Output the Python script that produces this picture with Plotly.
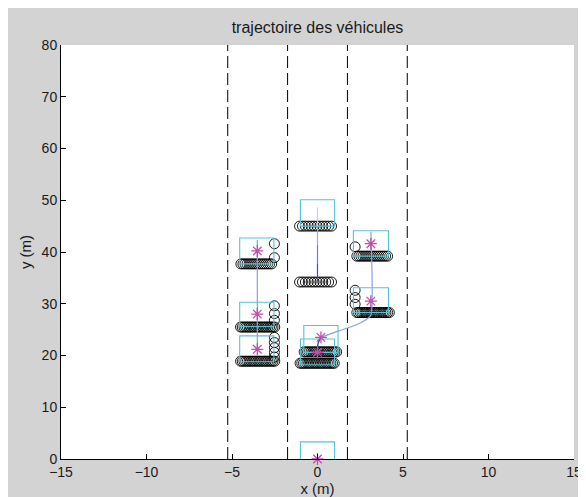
import plotly.graph_objects as go

# lane markings (m)
LANE_X = [-5.25, -1.75, 1.75, 5.25]

# circle rows: (y, x positions)
ROW_A_Y = 37.7
ROW_A_X = [-4.48, -4.36, -4.24, -4.12, -4.00, -3.88, -3.76, -3.64, -3.52, -3.40, -3.28, -3.16, -3.04, -2.92, -2.80, -2.68]
ROW_B_Y = 25.5
ROW_B_X = [-4.50, -4.40, -4.30, -4.20, -4.10, -4.00, -3.90, -3.80, -3.70, -3.60, -3.50, -3.40, -3.30, -3.20, -3.10, -3.00, -2.90, -2.80, -2.70, -2.60, -2.50]
ROW_C_Y = 18.9
ROW_C_X = [-4.50, -4.40, -4.30, -4.20, -4.10, -4.00, -3.90, -3.80, -3.70, -3.60, -3.50, -3.40, -3.30, -3.20, -3.10, -3.00, -2.90, -2.80, -2.70, -2.60, -2.50]
ROW_D_Y = 45.0
ROW_D_X = [-1.05, -0.88, -0.71, -0.54, -0.37, -0.20, -0.03, 0.14, 0.31, 0.48, 0.65, 0.82]
ROW_E_Y = 34.2
ROW_E_X = [-1.05, -0.88, -0.71, -0.54, -0.37, -0.20, -0.03, 0.14, 0.31, 0.48, 0.65, 0.82]
ROW_F1_Y = 20.7
ROW_F1_X = [-0.78, -0.68, -0.58, -0.48, -0.38, -0.28, -0.18, -0.08, 0.02, 0.12, 0.22, 0.32, 0.42, 0.52, 0.62, 0.72, 0.82, 0.92, 1.02, 1.12]
ROW_F2_Y = 18.5
ROW_F2_X = [-1.02, -0.92, -0.82, -0.72, -0.62, -0.52, -0.42, -0.32, -0.22, -0.12, -0.02, 0.08, 0.18, 0.28, 0.38, 0.48, 0.58, 0.68, 0.78, 0.88, 0.98]
ROW_G_Y = 39.2
ROW_G_X = [2.30, 2.42, 2.54, 2.66, 2.78, 2.90, 3.02, 3.14, 3.26, 3.38, 3.50, 3.62, 3.74, 3.86, 3.98, 4.10]
ROW_H_Y = 28.3
ROW_H_X = [2.30, 2.40, 2.50, 2.60, 2.70, 2.80, 2.90, 3.00, 3.10, 3.20, 3.30, 3.40, 3.50, 3.60, 3.70, 3.80, 3.90, 4.00, 4.10, 4.20]

# circle columns: (x, y positions)
COL_A_X = -2.52
COL_A_Y = [41.6, 38.9]
COL_B_X = -2.52
COL_B_Y = [29.6, 28.1, 26.8]
COL_C_X = -2.52
COL_C_Y = [23.5, 22.5, 21.5, 20.6, 19.7]
COL_G_X = 2.2
COL_G_Y = [41.0]
COL_H_X = 2.2
COL_H_Y = [32.6, 31.2, 29.9]

# vehicle boxes: x0, x1, y0, y1
BOX_X0 = [-1.0, -4.55, -4.55, -4.55, -1.0, -0.8, -1.0, 2.1, 2.1]
BOX_X1 = [1.0, -2.55, -2.55, -2.55, 1.0, 1.2, 1.0, 4.15, 4.15]
BOX_Y0 = [-1.7, 37.7, 25.6, 18.8, 45.0, 20.6, 18.2, 39.2, 28.3]
BOX_Y1 = [3.3, 42.7, 30.3, 23.8, 50.1, 25.8, 23.2, 44.1, 33.1]

# vehicle centres
CENTER_X = [0.0, -3.52, -3.52, -3.52, 0.2, 0.0, 3.12, 3.12]
CENTER_Y = [0.0, 40.2, 28.0, 21.2, 23.5, 20.6, 41.6, 30.5]

# trajectories
TRAJ_LEFT_X = [-3.52, -3.52]
TRAJ_LEFT_Y = [42.3, 21.6]
TRAJ_MID_X = [0.0, 0.0, 0.0, 0.0, 0.0]
TRAJ_MID_Y = [48.6, 45.0, 41.4, 37.8, 34.4]
TRAJ_MID_COLORS = ["#c3cdee", "#9aaae0", "#6a80cf", "#3555b5"]
TRAJ_CHANGE_DARK_X = [0.0, 0.03, 0.2]
TRAJ_CHANGE_DARK_Y = [20.6, 22.3, 23.5]
TRAJ_CHANGE_X = [0.2, 1.2, 2.25, 2.83, 3.12, 3.12]
TRAJ_CHANGE_Y = [23.5, 24.7, 25.9, 26.9, 27.8, 43.9]

FONT = "Liberation Sans, Arial, Helvetica, sans-serif"
CYAN = "#55c5d5"
MAGENTA = "#c24fae"
TRAJ_LIGHT = "#8d9fdc"

fig = go.Figure()

for lx in LANE_X:
    fig.add_trace(go.Scatter(x=[lx, lx], y=[0, 80], mode="lines",
                             line=dict(color="black", width=1, dash="12px,5px")))

rows = [(ROW_A_Y, ROW_A_X), (ROW_B_Y, ROW_B_X), (ROW_C_Y, ROW_C_X), (ROW_D_Y, ROW_D_X),
        (ROW_E_Y, ROW_E_X), (ROW_F1_Y, ROW_F1_X), (ROW_F2_Y, ROW_F2_X),
        (ROW_G_Y, ROW_G_X), (ROW_H_Y, ROW_H_X)]
cols = [(COL_A_X, COL_A_Y), (COL_B_X, COL_B_Y), (COL_C_X, COL_C_Y),
        (COL_G_X, COL_G_Y), (COL_H_X, COL_H_Y)]
circle_marker = dict(symbol="circle-open", size=10, color="black", line=dict(width=0.9, color="black"))
for ry, rx in rows:
    fig.add_trace(go.Scatter(x=rx, y=[ry] * len(rx), mode="markers", marker=circle_marker))
for cx, cy in cols:
    fig.add_trace(go.Scatter(x=[cx] * len(cy), y=cy, mode="markers", marker=circle_marker))

for x0, x1, y0, y1 in zip(BOX_X0, BOX_X1, BOX_Y0, BOX_Y1):
    fig.add_trace(go.Scatter(x=[x0, x1, x1, x0, x0], y=[y0, y0, y1, y1, y0], mode="lines",
                             line=dict(color=CYAN, width=1.1)))

fig.add_trace(go.Scatter(x=TRAJ_LEFT_X, y=TRAJ_LEFT_Y, mode="lines", line=dict(color=TRAJ_LIGHT, width=1.2)))
for i, c in enumerate(TRAJ_MID_COLORS):
    fig.add_trace(go.Scatter(x=TRAJ_MID_X[i:i + 2], y=TRAJ_MID_Y[i:i + 2], mode="lines",
                             line=dict(color=c, width=1.2)))
fig.add_trace(go.Scatter(x=TRAJ_CHANGE_X, y=TRAJ_CHANGE_Y, mode="lines",
                         line=dict(color=TRAJ_LIGHT, width=1.2, shape="spline", smoothing=0.6)))
fig.add_trace(go.Scatter(x=TRAJ_CHANGE_DARK_X, y=TRAJ_CHANGE_DARK_Y, mode="lines",
                         line=dict(color="#2d4fb0", width=1.4, shape="spline")))

fig.add_trace(go.Scatter(x=CENTER_X, y=CENTER_Y, mode="markers", cliponaxis=False,
                         marker=dict(symbol="asterisk-open", size=10, color=MAGENTA,
                                     line=dict(width=1.3, color=MAGENTA))))

# page body adds an 8px white margin top/left, so the figure is offset by 8px
fig.update_layout(
    width=586, height=497,
    margin=dict(l=53, r=13, t=37, b=46),
    paper_bgcolor="#d3d3d3",
    plot_bgcolor="white",
    showlegend=False,
    font=dict(family=FONT, size=14, color="#1a1a1a"),
    title=dict(text="trajectoire des véhicules", x=0.5, xref="paper", y=1 - 19 / 497,
               yref="container", yanchor="middle", xanchor="center",
               font=dict(family=FONT, size=16, color="#1a1a1a")),
)

fig.update_xaxes(range=[-15, 15], tickvals=[-15, -10, -5, 0, 5, 10, 15],
                 ticks="inside", ticklen=5, tickcolor="black", showline=True, linecolor="black",
                 linewidth=1, showgrid=False, zeroline=False, mirror=False,
                 title=dict(text="x (m)", standoff=0, font=dict(size=15)))
fig.update_yaxes(range=[0, 80], tickvals=[0, 10, 20, 30, 40, 50, 60, 70, 80],
                 ticks="inside", ticklen=5, tickcolor="black", showline=True, linecolor="black",
                 linewidth=1, showgrid=False, zeroline=False, mirror=False,
                 title=dict(text="y (m)", standoff=6, font=dict(size=15)))

fig.write_html("out.html")
